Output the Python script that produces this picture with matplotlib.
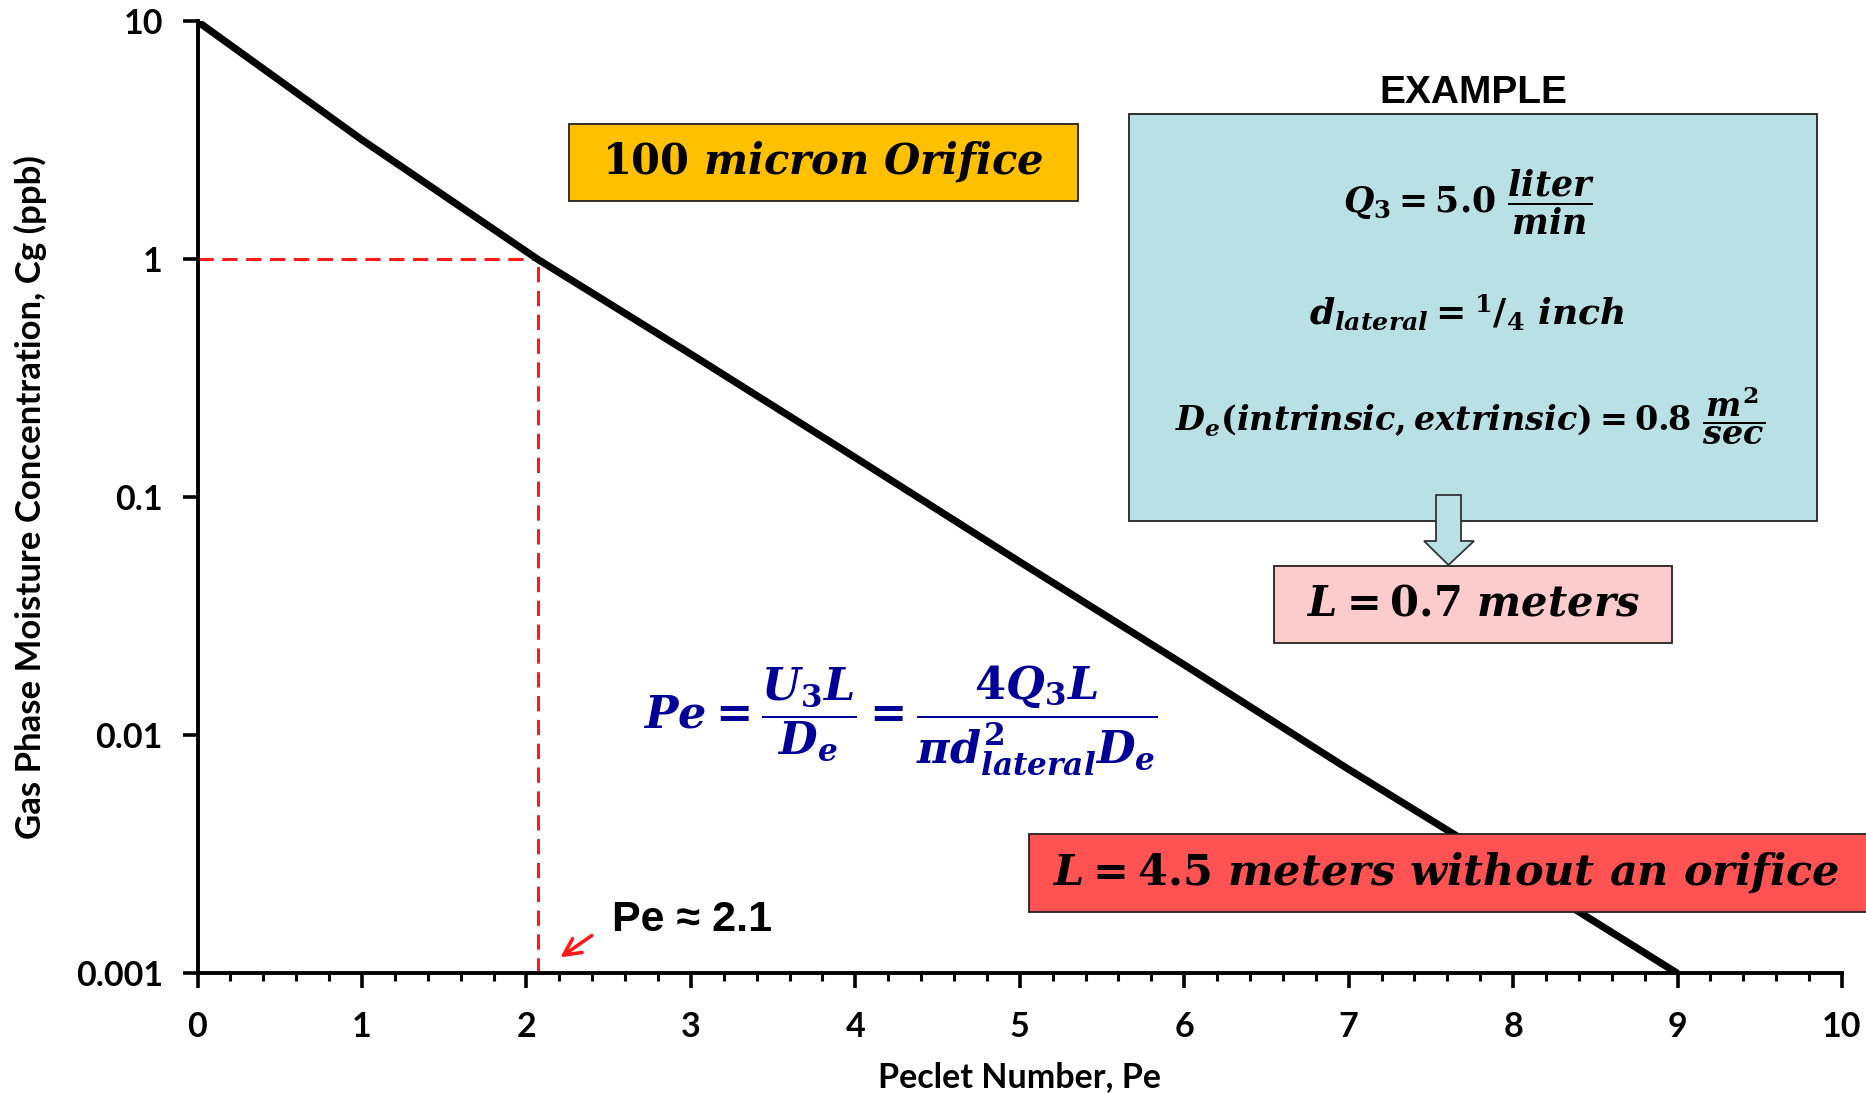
import matplotlib
matplotlib.use("Agg")
import matplotlib.pyplot as plt
from matplotlib.patches import Rectangle, Polygon, FancyArrowPatch
from matplotlib.ticker import FixedLocator, MultipleLocator, NullLocator

# Peclet number vs. gas-phase moisture concentration
pe_values = [0, 1, 2.07, 3, 4, 5, 6, 7, 8, 9]
cg_values = [10, 3.18, 1.0, 0.40, 0.147, 0.0536, 0.0198, 0.0072, 0.0027, 0.001]

# operating point
pe_point = 2.07
cg_point = 1.0

x_ticks = [0, 1, 2, 3, 4, 5, 6, 7, 8, 9, 10]
y_ticks = [0.001, 0.01, 0.1, 1, 10]
y_tick_labels = ["0.001", "0.01", "0.1", "1", "10"]

W, H = 1866, 1093

plt.rcParams["mathtext.fontset"] = "custom"
plt.rcParams["mathtext.rm"] = "DejaVu Serif:bold"
plt.rcParams["mathtext.bf"] = "DejaVu Serif:bold"
plt.rcParams["mathtext.it"] = "DejaVu Serif:italic:bold"

fig = plt.figure(figsize=(W / 100, H / 100), dpi=100)


def fx(px):
    return px / W


def fy(py):
    return 1 - py / H


ax = fig.add_axes([fx(197.5), fy(973.4), fx(1842) - fx(197.5), fy(21.4) - fy(973.4)])

ax.plot(pe_values, cg_values, color="black", lw=5.2, solid_capstyle="butt",
        solid_joinstyle="round", zorder=3)

# red dashed guide lines to the operating point
ax.plot([0, pe_point], [cg_point, cg_point], color="#FF1A1A", lw=2.2,
        dashes=(5.0, 2.8), zorder=2)
ax.plot([pe_point, pe_point], [0.001, cg_point], color="#FF1A1A", lw=2.2,
        dashes=(5.0, 2.8), zorder=2)

ax.set_yscale("log")
ax.set_xlim(0, 10)
ax.set_ylim(0.001, 10)

ax.xaxis.set_major_locator(FixedLocator(x_ticks))
ax.xaxis.set_minor_locator(MultipleLocator(0.2))
ax.set_xticklabels([str(t) for t in x_ticks])
ax.yaxis.set_major_locator(FixedLocator(y_ticks))
ax.yaxis.set_minor_locator(NullLocator())
ax.set_yticklabels(y_tick_labels)

for side in ("top", "right"):
    ax.spines[side].set_visible(False)
for side in ("left", "bottom"):
    ax.spines[side].set_linewidth(2.8)

ax.tick_params(axis="x", which="major", direction="out", length=11, width=2.6, pad=16)
ax.tick_params(axis="x", which="minor", direction="out", length=6, width=2.2)
ax.tick_params(axis="y", which="major", direction="out", length=11, width=2.6, pad=14)
for lab in ax.get_xticklabels() + ax.get_yticklabels():
    lab.set_fontfamily("Lato")
    lab.set_fontweight("bold")
    lab.set_fontsize(24.5)

fig.text(fx(1020), fy(1077), "Peclet Number, Pe", ha="center", va="center",
         family="Lato", weight="bold", size=24.5)
fig.text(fx(30), fy(497), "Gas Phase Moisture Concentration, Cg (ppb)", ha="center",
         va="center", rotation=90, family="Lato", weight="bold", size=25)


def box(x0, y0, x1, y1, color, edge="#222222"):
    r = Rectangle((fx(x0), fy(y1)), fx(x1) - fx(x0), fy(y0) - fy(y1),
                  transform=fig.transFigure, facecolor=color, edgecolor=edge,
                  lw=1.3, zorder=5, clip_on=False)
    fig.add_artist(r)


# orifice label
box(569, 124, 1078, 201, "#FFC000")
fig.text(fx(823), fy(162), r"$100\ micron\ Orifice$", ha="center", va="center",
         size=30, zorder=6)

# example parameters
fig.text(fx(1473), fy(93), "EXAMPLE", ha="center", va="center",
         family=["Liberation Sans Narrow", "Liberation Sans"], weight="bold",
         size=28, zorder=6)
box(1129, 114, 1817, 521, "#B9E0E4")
fig.text(fx(1469), fy(202), r"$Q_3 = 5.0\ \dfrac{liter}{min}$", ha="center",
         va="center", size=25, zorder=6)
fig.text(fx(1467), fy(312), r"$d_{lateral} = {}^{1}/_{4}\ inch$", ha="center",
         va="center", size=26, zorder=6)
fig.text(fx(1470), fy(416), r"$D_e(intrinsic, extrinsic) = 0.8\ \dfrac{m^2}{sec}$",
         ha="center", va="center", size=24, zorder=6)

# block arrow down to the result
arrow = Polygon([(fx(1436), fy(495)), (fx(1461), fy(495)), (fx(1461), fy(541)),
                 (fx(1474), fy(541)), (fx(1448.5), fy(565)), (fx(1424), fy(541)),
                 (fx(1436), fy(541))], closed=True, transform=fig.transFigure,
                facecolor="#B9E0E4", edgecolor="#333333", lw=1.3, zorder=7)
fig.add_artist(arrow)

box(1274, 566, 1672, 643, "#FCCBCB")
fig.text(fx(1473), fy(604), r"$L = 0.7\ meters$", ha="center", va="center",
         size=30, zorder=6)

# comparison without orifice
box(1029, 834, 1880, 912, "#FF5252")
fig.text(fx(1446), fy(873), r"$L = 4.5\ meters\ without\ an\ orifice$",
         ha="center", va="center", size=31, zorder=6)

# Peclet number definition
fig.text(fx(900), fy(720),
         r"$Pe = \dfrac{U_3 L}{D_e} = \dfrac{4 Q_3 L}{\pi d_{lateral}^2 D_e}$",
         ha="center", va="center", size=32, color="#000099", zorder=6)

# operating point callout
fig.text(fx(612), fy(920), "Pe \u2248 2.1", ha="left", va="center",
         family="Liberation Sans", weight="bold", size=31, zorder=6)
fig.add_artist(FancyArrowPatch((fx(594), fy(934)), (fx(558), fy(959)),
                               transform=fig.transFigure, arrowstyle="->",
                               mutation_scale=30, color="#FF1A1A", lw=2.6,
                               zorder=6))

fig.savefig("out.png", dpi=100)
